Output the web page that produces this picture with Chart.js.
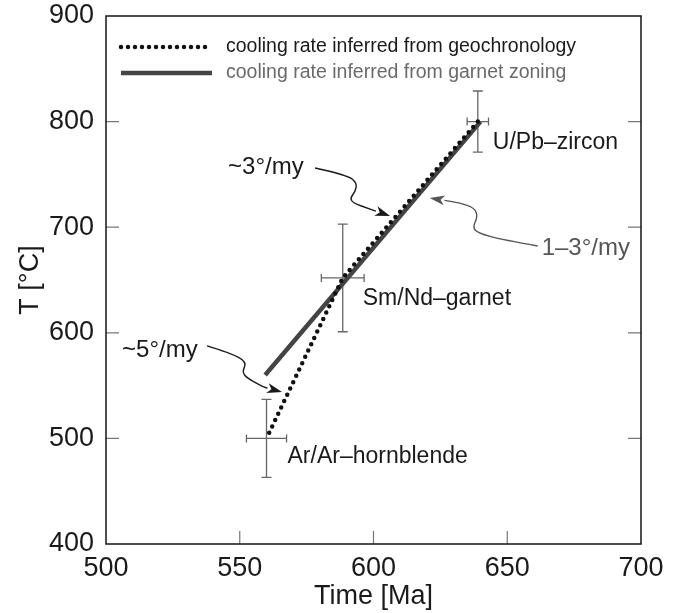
<!DOCTYPE html>
<html>
<head>
<meta charset="utf-8">
<script src="https://cdn.jsdelivr.net/npm/chart.js@4.4.1/dist/chart.umd.min.js"></script>
<style>
  body { margin: 0; background: #fff; }
  canvas { display: block; }
</style>
</head>
<body>
<canvas id="coolingChart" width="673" height="613"></canvas>
<script>
// sample ages / temperatures
const samples = ['U/Pb\u2013zircon', 'Sm/Nd\u2013garnet', 'Ar/Ar\u2013hornblende'];
const ageMa = [639, 588.5, 560];
const tempC = [800, 652, 500];
const ageErr = [4, 8, 7.5];
const tempErr = [29, 51, 37];

// cooling path from garnet zoning
const garnetAge = [559.5, 640];
const garnetTemp = [560, 800];

const xTicks = [500, 550, 600, 650, 700];
const yTicks = [400, 500, 600, 700, 800, 900];

const legendLabels = ['cooling rate inferred from geochronology', 'cooling rate inferred from garnet zoning'];

// rate annotations: arrow tip in data space, path offsets in px from the tip
const rateNotes = [
  { text: '~3\u00b0/my', color: '#1a1a1a', tip: [606.2, 710.6], textAt: [-162, -49],
    path: [[-75, -48], [-43, -41], [-33, -33], [-35, -24], [-40, -18], [-37, -13], [-23, -8], [0, 0]] },
  { text: '1\u20133\u00b0/my', color: '#555', tip: [621, 727.7], textAt: [112, 50],
    path: [[108, 48], [73, 42], [48, 35], [43, 29], [48, 19], [45, 10], [30, 5], [0, 0]] },
  { text: '~5\u00b0/my', color: '#1a1a1a', tip: [565.8, 544], textAt: [-160, -42],
    path: [[-75, -46], [-52, -39], [-35, -30], [-40, -20], [-35, -14], [-19, -5], [0, 0]] }
];

const FONT = '"Liberation Sans", Arial, Helvetica, sans-serif';

const decorPlugin = {
  id: 'decor',
  beforeDatasetsDraw(chart) {
    const { ctx, chartArea: a, scales: { x, y } } = chart;
    ctx.save();
    // inward ticks
    ctx.strokeStyle = '#777';
    ctx.lineWidth = 1.2;
    ctx.beginPath();
    xTicks.slice(1, -1).forEach(v => {
      const px = x.getPixelForValue(v);
      ctx.moveTo(px, a.bottom); ctx.lineTo(px, a.bottom - 13);
    });
    yTicks.slice(1, -1).forEach(v => {
      const py = y.getPixelForValue(v);
      ctx.moveTo(a.left, py); ctx.lineTo(a.left + 13, py);
      ctx.moveTo(a.right, py); ctx.lineTo(a.right - 13, py);
    });
    ctx.stroke();

    // error bars
    ctx.strokeStyle = '#666';
    ctx.lineWidth = 1.3;
    ctx.beginPath();
    ageMa.forEach((t, i) => {
      const cx = x.getPixelForValue(t), cy = y.getPixelForValue(tempC[i]);
      const x0 = x.getPixelForValue(t - ageErr[i]), x1 = x.getPixelForValue(t + ageErr[i]);
      const y0 = y.getPixelForValue(tempC[i] + tempErr[i]), y1 = y.getPixelForValue(tempC[i] - tempErr[i]);
      ctx.moveTo(x0, cy); ctx.lineTo(x1, cy);
      ctx.moveTo(x0, cy - 4); ctx.lineTo(x0, cy + 4);
      ctx.moveTo(x1, cy - 4); ctx.lineTo(x1, cy + 4);
      ctx.moveTo(cx, y0); ctx.lineTo(cx, y1);
      ctx.moveTo(cx - 5, y0); ctx.lineTo(cx + 5, y0);
      ctx.moveTo(cx - 5, y1); ctx.lineTo(cx + 5, y1);
    });
    ctx.stroke();
    ctx.restore();
  },
  afterDatasetsDraw(chart) {
    const { ctx, chartArea: a, scales: { x, y } } = chart;
    ctx.save();

    // frame
    ctx.strokeStyle = '#222';
    ctx.lineWidth = 1.6;
    ctx.strokeRect(a.left, a.top, a.right - a.left, a.bottom - a.top);

    // sample labels
    ctx.fillStyle = '#1a1a1a';
    ctx.font = '23px ' + FONT;
    ctx.textBaseline = 'middle';
    ctx.textAlign = 'left';
    const labelOff = [[15, 21], [20, 21], [21, 18]];
    samples.forEach((s, i) => {
      ctx.fillText(s, x.getPixelForValue(ageMa[i]) + labelOff[i][0], y.getPixelForValue(tempC[i]) + labelOff[i][1]);
    });

    // rate notes with wavy arrows
    rateNotes.forEach(n => {
      const tx = x.getPixelForValue(n.tip[0]), ty = y.getPixelForValue(n.tip[1]);
      const pts = n.path.map(p => [tx + p[0], ty + p[1]]);
      ctx.strokeStyle = n.color;
      ctx.fillStyle = n.color;
      ctx.lineWidth = 1.4;
      // stop the line short of the tip so the head covers it
      const last = pts[pts.length - 1], prev = pts[pts.length - 2];
      const ang = Math.atan2(last[1] - prev[1], last[0] - prev[0]);
      const headLen = 15, headW = 5;
      const bx = last[0] - Math.cos(ang) * headLen, by = last[1] - Math.sin(ang) * headLen;
      const line = pts.slice(0, -1).concat([[bx, by]]);
      ctx.beginPath();
      ctx.moveTo(line[0][0], line[0][1]);
      for (let i = 1; i < line.length - 1; i++) {
        const mx = (line[i][0] + line[i + 1][0]) / 2, my = (line[i][1] + line[i + 1][1]) / 2;
        ctx.quadraticCurveTo(line[i][0], line[i][1], mx, my);
      }
      ctx.lineTo(bx, by);
      ctx.stroke();
      ctx.beginPath();
      ctx.moveTo(last[0], last[1]);
      ctx.lineTo(bx - Math.sin(ang) * headW, by + Math.cos(ang) * headW);
      ctx.lineTo(bx + Math.cos(ang) * 4, by + Math.sin(ang) * 4);
      ctx.lineTo(bx + Math.sin(ang) * headW, by - Math.cos(ang) * headW);
      ctx.closePath();
      ctx.fill();

      ctx.font = '24px ' + FONT;
      ctx.textAlign = 'left';
      ctx.textBaseline = 'middle';
      ctx.fillText(n.text, tx + n.textAt[0], ty + n.textAt[1]);
    });

    // legend
    const lx0 = a.left + 15, lx1 = a.left + 106, tx0 = a.left + 120;
    const ly = [a.top + 31, a.top + 57];
    ctx.lineCap = 'round';
    ctx.strokeStyle = '#111';
    ctx.lineWidth = 4.5;
    ctx.setLineDash([0, 7]);
    ctx.beginPath(); ctx.moveTo(lx0, ly[0]); ctx.lineTo(lx1, ly[0]); ctx.stroke();
    ctx.setLineDash([]);
    ctx.lineCap = 'butt';
    ctx.strokeStyle = '#444';
    ctx.lineWidth = 4.5;
    ctx.beginPath(); ctx.moveTo(lx0, ly[1]); ctx.lineTo(lx1, ly[1]); ctx.stroke();
    ctx.font = '19.5px ' + FONT;
    ctx.fillStyle = '#1a1a1a';
    ctx.fillText(legendLabels[0], tx0, ly[0]);
    ctx.fillStyle = '#6a6a6a';
    ctx.fillText(legendLabels[1], tx0, ly[1]);
    ctx.restore();
  }
};

const ctx = document.getElementById('coolingChart').getContext('2d');
const chart = new Chart(ctx, {
  type: 'scatter',
  data: {
    datasets: [
      {
        label: legendLabels[0],
        data: ageMa.map((t, i) => ({ x: t, y: tempC[i] })),
        showLine: true,
        borderColor: '#111',
        borderWidth: 4.5,
        borderDash: [0, 7],
        borderCapStyle: 'round',
        pointRadius: 0,
        order: 0
      },
      {
        label: legendLabels[1],
        data: garnetAge.map((t, i) => ({ x: t, y: garnetTemp[i] })),
        showLine: true,
        borderColor: '#444',
        borderWidth: 4.5,
        pointRadius: 0,
        order: 1
      }
    ]
  },
  options: {
    responsive: false,
    animation: false,
    layout: { padding: { top: 16, right: 32, left: 0, bottom: 0 } },
    plugins: {
      legend: { display: false },
      tooltip: { enabled: false }
    },
    scales: {
      x: {
        type: 'linear',
        min: 500, max: 700,
        afterBuildTicks: s => { s.ticks = xTicks.map(v => ({ value: v })); },
        afterFit: s => { s.height = 69; s.paddingLeft = 0; s.paddingRight = 0; },
        grid: { display: false, drawTicks: false },
        border: { display: false },
        ticks: { color: '#1a1a1a', padding: 8, font: { family: FONT, size: 27 } },
        title: { display: true, text: 'Time [Ma]', color: '#1a1a1a', padding: 0, font: { family: FONT, size: 27 } }
      },
      y: {
        type: 'linear',
        min: 400, max: 900,
        afterBuildTicks: s => { s.ticks = yTicks.map(v => ({ value: v })); },
        afterFit: s => { s.width = 106; s.paddingTop = 0; s.paddingBottom = 0; },
        grid: { display: false, drawTicks: false },
        border: { display: false },
        ticks: { color: '#1a1a1a', padding: 12, font: { family: FONT, size: 27 } },
        title: { display: true, text: 'T [\u00b0C]', color: '#1a1a1a', padding: { top: 14, bottom: 0 }, font: { family: FONT, size: 27 } }
      }
    }
  },
  plugins: [decorPlugin]
});
</script>
</body>
</html>
